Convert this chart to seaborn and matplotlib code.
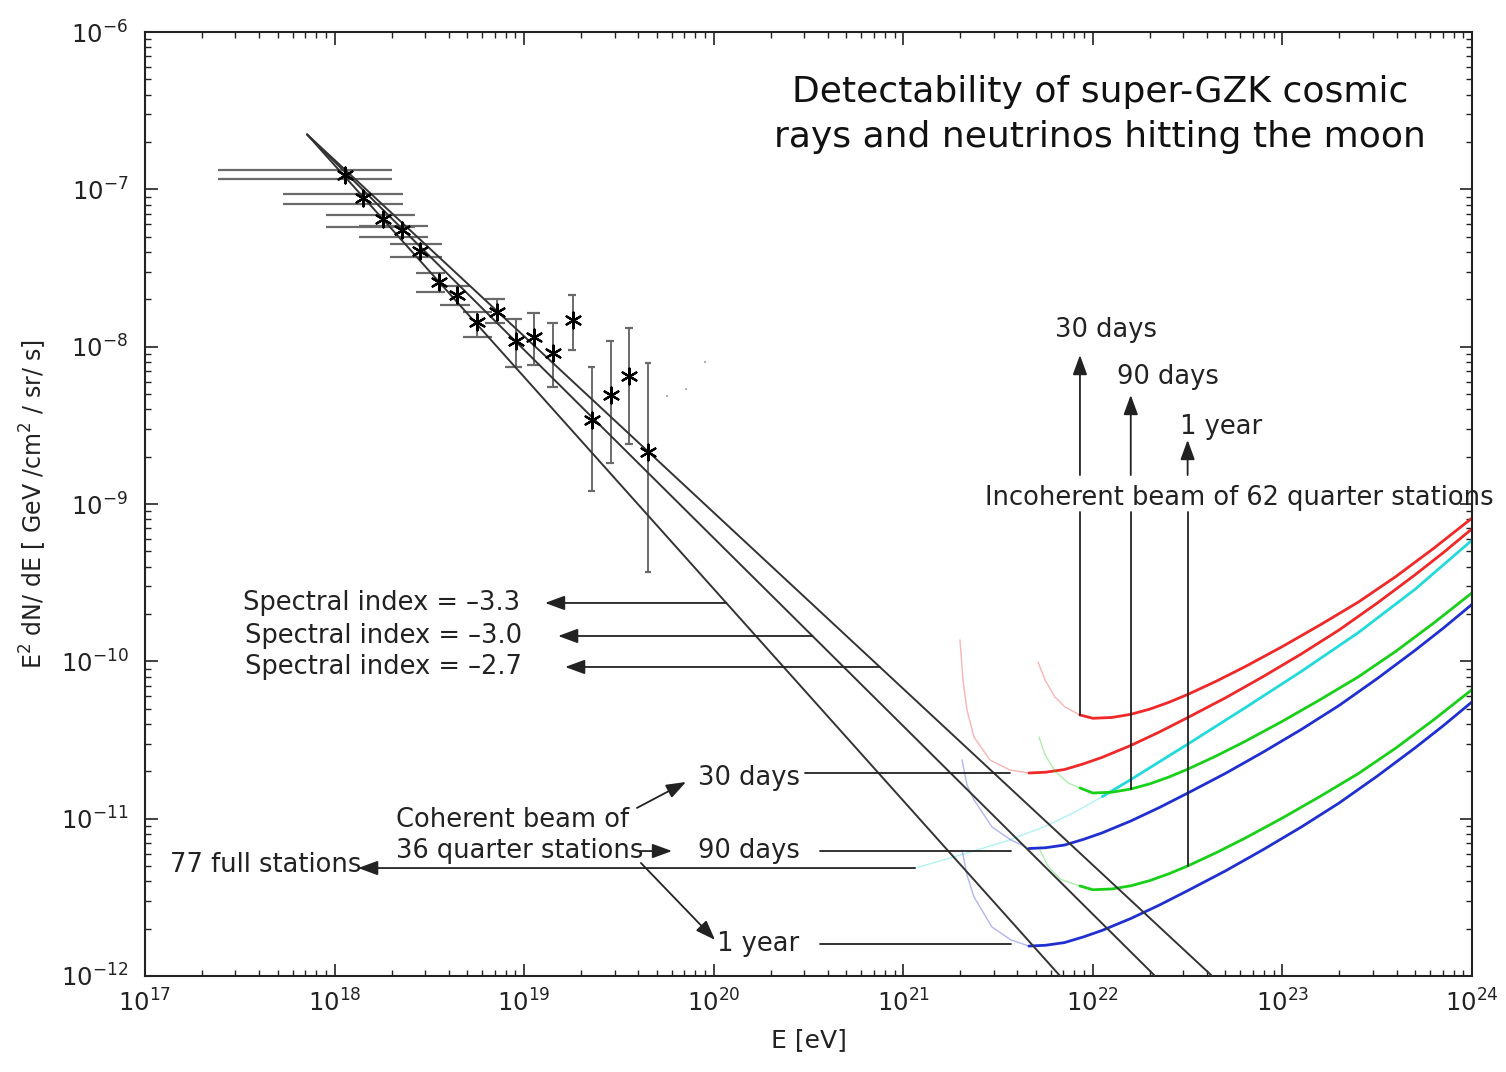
import numpy as np
import matplotlib
matplotlib.use("Agg")
import matplotlib.pyplot as plt
from matplotlib.ticker import FixedLocator, NullFormatter, LogFormatterSciNotation
import seaborn as sns

# ---------------------------------------------------------------------------
# Measured cosmic-ray flux (E in eV, E^2 dN/dE in GeV cm^-2 sr^-1 s^-1)
# ---------------------------------------------------------------------------
cr_E = [1.135e18, 1.41e18, 1.80e18, 2.27e18, 2.82e18, 3.56e18, 4.43e18, 5.64e18,
        7.19e18, 9.06e18, 1.127e19, 1.419e19, 1.81e19, 2.28e19, 2.87e19, 3.57e19, 4.50e19]
cr_F = [1.233e-7, 8.81e-8, 6.47e-8, 5.51e-8, 4.06e-8, 2.58e-8, 2.13e-8, 1.44e-8,
        1.66e-8, 1.09e-8, 1.15e-8, 9.12e-9, 1.48e-8, 3.42e-9, 4.93e-9, 6.52e-9, 2.14e-9]
cr_F_hi = [1.327e-7, 9.33e-8, 6.87e-8, 5.85e-8, 4.50e-8, 2.94e-8, 2.43e-8, 1.66e-8,
           2.01e-8, 1.50e-8, 1.64e-8, 1.41e-8, 2.13e-8, 7.43e-9, 1.09e-8, 1.32e-8, 7.87e-9]
cr_F_lo = [1.164e-7, 8.07e-8, 5.77e-8, 4.98e-8, 3.72e-8, 2.22e-8, 1.84e-8, 1.15e-8,
           1.41e-8, 7.43e-9, 7.64e-9, 5.55e-9, 9.53e-9, 1.21e-9, 1.82e-9, 2.40e-9, 3.70e-10]
cr_E_lo = [2.43e17, 5.35e17, 9.02e17, 1.35e18, 1.96e18, 2.69e18, 3.60e18, 4.75e18,
           6.22e18, 7.93e18, 1.035e19, 1.321e19, 1.702e19, 2.173e19, 2.704e19, 3.404e19, 4.345e19]
cr_E_hi = [2.01e18, 2.30e18, 2.65e18, 3.11e18, 3.69e18, 3.83e18, 5.18e18, 6.76e18,
           7.93e18, 9.75e18, 1.213e19, 1.510e19, 1.879e19, 2.366e19, 2.979e19, 3.750e19, 4.667e19]

# faint upper-limit points
ul_E = [5.68e19, 7.14e19, 9.00e19]
ul_F = [4.85e-9, 5.38e-9, 7.98e-9]

# power-law extrapolations (log10 E, log10 flux at both ends)
spec_index = [-3.3, -3.0, -2.7]
spec_start_logE = [17.855, 17.855, 17.855]
spec_start_logF = [-6.651, -6.651, -6.651]
spec_end_logE = [21.827, 22.328, 22.629]
spec_end_logF = [-12.0, -12.0, -12.0]

# sensitivity curves (log10 E [eV], log10 flux)
inc30_logE = [21.711, 21.748, 21.800, 21.853, 21.932, 22.0, 22.1, 22.2, 22.3, 22.4,
              22.5, 22.65, 22.8, 23.0, 23.2, 23.4, 23.6, 23.8, 24.0]
inc30_logF = [-10.004, -10.119, -10.227, -10.290, -10.341, -10.362, -10.357, -10.337,
              -10.304, -10.261, -10.211, -10.127, -10.036, -9.906, -9.768, -9.624,
              -9.460, -9.280, -9.090]

inc90_logE = [21.716, 21.748, 21.800, 21.869, 21.932, 22.0, 22.1, 22.2, 22.3, 22.4,
              22.5, 22.65, 22.8, 23.0, 23.2, 23.4, 23.6, 23.8, 24.0]
inc90_logF = [-10.481, -10.595, -10.697, -10.773, -10.805, -10.837, -10.832, -10.812,
              -10.779, -10.736, -10.686, -10.602, -10.511, -10.381, -10.243, -10.099,
              -9.935, -9.755, -9.565]

inc1y_logE = [21.721, 21.763, 21.827, 21.932, 22.0, 22.1, 22.2, 22.3, 22.4, 22.5,
              22.65, 22.8, 23.0, 23.2, 23.4, 23.6, 23.8, 24.0]
inc1y_logF = [-11.199, -11.301, -11.384, -11.428, -11.452, -11.447, -11.427, -11.394,
              -11.351, -11.301, -11.217, -11.126, -10.996, -10.858, -10.714, -10.550,
              -10.370, -10.180]

coh30_logE = [21.299, 21.315, 21.336, 21.373, 21.457, 21.563, 21.663, 21.75, 21.85,
              21.95, 22.05, 22.2, 22.35, 22.5, 22.7, 22.9, 23.1, 23.3, 23.5, 23.7,
              23.85, 24.0]
coh30_logF = [-9.864, -10.119, -10.309, -10.481, -10.627, -10.691, -10.710, -10.705,
              -10.688, -10.652, -10.610, -10.535, -10.450, -10.358, -10.232, -10.096,
              -9.953, -9.800, -9.630, -9.450, -9.308, -9.158]

coh90_logE = [21.310, 21.336, 21.373, 21.468, 21.568, 21.663, 21.75, 21.85, 21.95,
              22.05, 22.2, 22.35, 22.5, 22.7, 22.9, 23.1, 23.3, 23.5, 23.7, 23.85, 24.0]
coh90_logF = [-10.627, -10.786, -10.881, -11.053, -11.136, -11.190, -11.185, -11.168,
              -11.132, -11.090, -11.015, -10.930, -10.838, -10.712, -10.576, -10.433,
              -10.280, -10.110, -9.930, -9.788, -9.638]

coh1y_logE = coh90_logE
coh1y_logF = [-11.199, -11.358, -11.498, -11.689, -11.771, -11.810, -11.805, -11.788,
              -11.752, -11.710, -11.635, -11.550, -11.458, -11.332, -11.196, -11.053,
              -10.900, -10.730, -10.550, -10.408, -10.258]

full77_logE = [21.062, 21.3, 21.55, 21.75, 21.9, 22.05, 22.2, 22.5, 22.8, 23.1, 23.4,
               23.7, 24.0]
full77_logF = [-11.314, -11.232, -11.140, -11.049, -10.962, -10.860, -10.752, -10.527,
               -10.298, -10.064, -9.818, -9.542, -9.230]

# ---------------------------------------------------------------------------
sns.set_theme(style="ticks", rc={"xtick.direction": "in", "ytick.direction": "in"})
plt.rcParams["font.family"] = ["DejaVu Sans"]
plt.rcParams["mathtext.default"] = "regular"

INK = "#222222"
RED, CYAN, GREEN, BLUE = "#f02828", "#22dada", "#18d018", "#2030d0"

fig, ax = plt.subplots(figsize=(15.06, 10.72), dpi=100)
fig.subplots_adjust(left=0.0963, right=0.9774, bottom=0.0896, top=0.9701)
ax.set_xscale("log")
ax.set_yscale("log")
ax.set_xlim(1e17, 1e24)
ax.set_ylim(1e-12, 1e-6)
ax.set_facecolor("white")


def p10(v):
    return float(10.0 ** v)


# error bars with wide caps
ax.vlines(cr_E, cr_F_lo, cr_F_hi, color="#444444", lw=1.1, zorder=3)
ax.hlines(cr_F_hi, cr_E_lo, cr_E_hi, color="#6a6a6a", lw=1.6, zorder=3)
ax.hlines(cr_F_lo, cr_E_lo, cr_E_hi, color="#6a6a6a", lw=1.6, zorder=3)
sns.scatterplot(x=cr_E, y=cr_F, ax=ax, marker=(6, 2, 0), s=130, color="black",
                linewidth=1.6, zorder=4, legend=False)
sns.scatterplot(x=ul_E, y=ul_F, ax=ax, marker="s", s=4, color="#b0b0b0",
                linewidth=0, zorder=2, legend=False)

# power-law lines
for i in range(3):
    sns.lineplot(x=[p10(spec_start_logE[i]), p10(spec_end_logE[i])],
                 y=[p10(spec_start_logF[i]), p10(spec_end_logF[i])],
                 ax=ax, color="#333333", lw=1.4, sort=False, estimator=None, zorder=3)


def draw_curve(logE, logF, split, color):
    E = np.power(10.0, logE)
    F = np.power(10.0, logF)
    sns.lineplot(x=E[:split + 1], y=F[:split + 1], ax=ax, color=color, lw=1.0,
                 alpha=0.35, sort=False, estimator=None, zorder=2)
    sns.lineplot(x=E[split:], y=F[split:], ax=ax, color=color, lw=2.0,
                 sort=False, estimator=None, zorder=2)


draw_curve(inc30_logE, inc30_logF, 4, RED)
draw_curve(coh30_logE, coh30_logF, 6, RED)
draw_curve(full77_logE, full77_logF, 5, CYAN)
draw_curve(inc90_logE, inc90_logF, 4, GREEN)
draw_curve(coh90_logE, coh90_logF, 5, BLUE)
draw_curve(inc1y_logE, inc1y_logF, 3, GREEN)
draw_curve(coh1y_logE, coh1y_logF, 5, BLUE)

# ---------------------------------------------------------------------------
# annotations
FS = 18.5
arrow_kw = dict(arrowstyle="-|>,head_length=0.6,head_width=0.22", mutation_scale=20,
                color=INK, lw=1.3, shrinkA=0, shrinkB=0)


def arrow(tail, tip):
    ax.annotate("", xy=(p10(tip[0]), p10(tip[1])), xytext=(p10(tail[0]), p10(tail[1])),
                arrowprops=arrow_kw, zorder=5)


def seg(x0, y0, x1, y1):
    ax.plot([p10(x0), p10(x1)], [p10(y0), p10(y1)], color=INK, lw=1.3, zorder=3)


def label(x, y, s, **kw):
    ax.text(p10(x), p10(y), s, fontsize=FS, color=INK, va="center", ha="left", **kw)


# title
ax.text(p10(22.038), p10(-6.381), "Detectability of super-GZK cosmic", fontsize=26,
        color="#111111", ha="center", va="center")
ax.text(p10(22.038), p10(-6.667), "rays and neutrinos hitting the moon", fontsize=26,
        color="#111111", ha="center", va="center")

# spectral-index labels: arrows start on each power-law line
spec_label_logF = [-9.629, -9.839, -10.036]
spec_tip_logE = [19.110, 19.179, 19.216]
spec_text_logE = [17.517, 17.528, 17.528]
for i in range(3):
    lf = spec_label_logF[i]
    frac = (lf - spec_start_logF[i]) / (spec_end_logF[i] - spec_start_logF[i])
    le = spec_start_logE[i] + frac * (spec_end_logE[i] - spec_start_logE[i])
    arrow((le, lf), (spec_tip_logE[i], lf))
    label(spec_text_logE[i], lf, f"Spectral index = \u2013{abs(spec_index[i]):.1f}")

# incoherent beam: vertical markers from the curve minima
label(21.431, -8.962, "Incoherent beam of 62 quarter stations", clip_on=False)
inc_marks = [(inc30_logE[4], inc30_logF[4], -8.053, "30 days", 21.800, -7.894),
             (inc90_logE[7], inc90_logF[7], -8.307, "90 days", 22.127, -8.193),
             (inc1y_logE[9], inc1y_logF[9], -8.593, "1 year", 22.460, -8.511)]
for x, y0, tip, txt, tx, ty in inc_marks:
    seg(x, y0, x, -9.051)
    arrow((x, -8.816), (x, tip))
    label(tx, ty, txt)

# coherent beam
label(18.324, -11.009, "Coherent beam of")
label(18.324, -11.206, "36 quarter stations")
arrow((19.595, -10.932), (19.854, -10.767))
arrow((19.606, -11.206), (19.780, -11.206))
arrow((19.616, -11.282), (20.007, -11.771))
label(19.917, -10.742, "30 days")
label(19.917, -11.206, "90 days")
label(20.017, -11.797, "1 year")
seg(20.482, -10.710, 21.563, -10.710)
seg(20.561, -11.206, 21.568, -11.206)
seg(20.561, -11.797, 21.568, -11.797)

# 77 full stations
arrow((full77_logE[0], full77_logF[0]), (18.124, full77_logF[0]))
label(17.132, -11.294, "77 full stations")

# ---------------------------------------------------------------------------
# axes styling
for sp in ax.spines.values():
    sp.set_color("#222222")
    sp.set_linewidth(1.5)
    sp.set_visible(True)

x_decades = [1e17, 1e18, 1e19, 1e20, 1e21, 1e22, 1e23, 1e24]
y_decades = [1e-12, 1e-11, 1e-10, 1e-9, 1e-8, 1e-7, 1e-6]
x_minor = [m * d for d in x_decades[:-1] for m in range(2, 10)]
y_minor = [m * d for d in y_decades[:-1] for m in range(2, 10)]
ax.xaxis.set_major_locator(FixedLocator(x_decades))
ax.yaxis.set_major_locator(FixedLocator(y_decades))
ax.xaxis.set_minor_locator(FixedLocator(x_minor))
ax.yaxis.set_minor_locator(FixedLocator(y_minor))
ax.xaxis.set_major_formatter(LogFormatterSciNotation())
ax.yaxis.set_major_formatter(LogFormatterSciNotation())
ax.xaxis.set_minor_formatter(NullFormatter())
ax.yaxis.set_minor_formatter(NullFormatter())
ax.tick_params(which="both", direction="in", top=True, right=True, colors="#222222")
ax.tick_params(which="major", length=9, width=1.2, labelsize=17.5)
ax.tick_params(which="minor", length=4.5, width=1.0)
ax.tick_params(axis="x", which="major", pad=10)
ax.tick_params(axis="y", which="major", pad=12)

ax.set_xlabel("E [eV]", fontsize=18, color=INK)
ax.set_ylabel("E$^2$ dN/ dE [ GeV /cm$^2$ / sr/ s]", fontsize=17, color=INK)
ax.xaxis.set_label_coords(0.5, -0.055)
ax.yaxis.set_label_coords(-0.072, 0.5)

fig.savefig("out.png", dpi=100, facecolor="white")
